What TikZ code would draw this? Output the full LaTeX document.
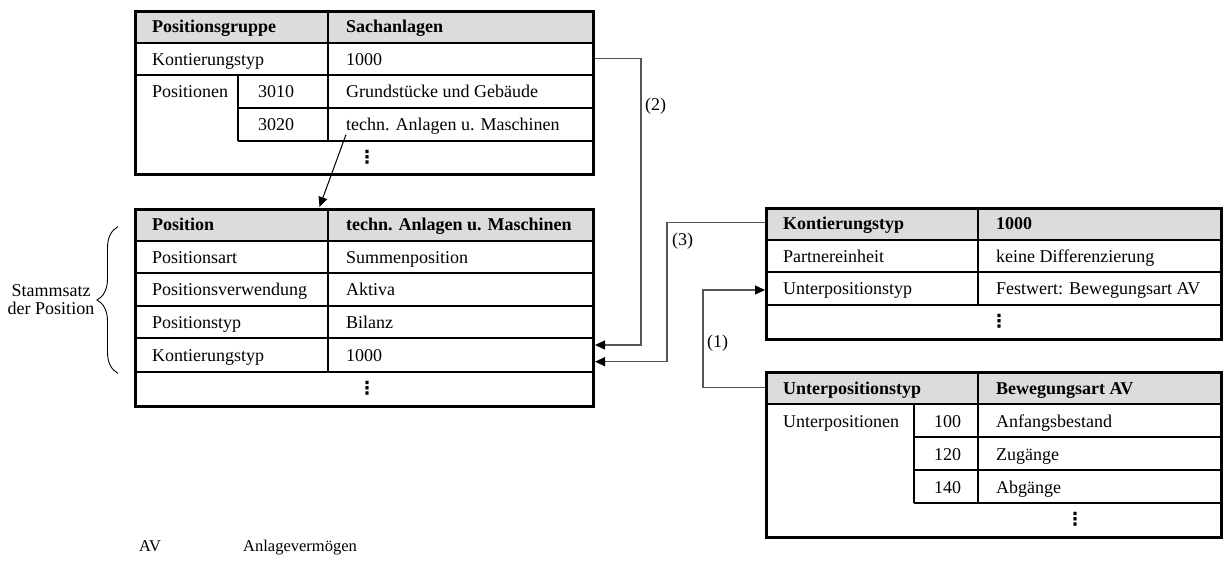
\documentclass[tikz,border=0pt]{standalone}
\usepackage{fontspec}
\setmainfont{Liberation Serif}
\newfontfamily\dotsfont{DejaVu Sans}
\usetikzlibrary{arrows.meta,decorations.pathreplacing}
\definecolor{headgray}{RGB}{220,220,220}
\definecolor{linkgray}{RGB}{85,85,85}

\begin{document}
\begin{tikzpicture}[x=1pt,y=-1pt,
  frame/.style={draw=black,line width=3pt,anchor=north west,inner sep=0pt},
  grid/.style={line width=2pt},
  head/.style={fill=headgray},
  txt/.style={anchor=base west,inner sep=0pt,font=\fontsize{18}{21}\selectfont},
  bold/.style={txt,font=\fontsize{18}{21}\selectfont\bfseries},
  more/.style={inner sep=0pt,font=\fontsize{18}{18}\selectfont\dotsfont\bfseries},
  note/.style={anchor=base west,inner sep=0pt,font=\fontsize{16.5}{19}\selectfont},
  link/.style={draw=linkgray,line width=1.3pt,-{Triangle[length=10pt,width=9pt,color=black]}},
  pointer/.style={draw=black,line width=1pt,-{Triangle[length=10pt,width=9pt]}}]

\fill[white] (0,0) rectangle (1224,562);
\useasboundingbox (0,0) rectangle (1224,562);

% ---- Positionsgruppe Sachanlagen
\fill[head] (134,10) rectangle (592,42.5);
\node[frame,minimum width=458pt,minimum height=163pt] (pg) at (134,10) {};
\draw[grid] (134,42.5) -- (592,42.5) (134,75) -- (592,75)
  (238,107.5) -- (592,107.5) (238,140.5) -- (592,140.5)
  (328,10) -- (328,140.5) (238,75) -- (238,140.5);
\node[bold] (pgk) at (152,32.75) {Positionsgruppe};
\node[bold] (pgv) at (346,32.75) {Sachanlagen};
\node[txt] (pgkt) at (152,65.25) {Kontierungstyp};
\node[txt] (pgktv) at (346,65.25) {1000};
\node[txt] (pgpos) at (152,97.75) {Positionen};
\node[txt] (pgn1) at (258,97.75) {3010};
\node[txt] (pgp1) at (346,97.75) {Grundstücke und Gebäude};
\node[txt] (pgn2) at (258,130.5) {3020};
\node[txt] (pgp2) at (346,130.5) {techn. Anlagen u. Maschinen};
\node[more] (pgmore) at (367,156.75) {⋮};

% ---- Position techn. Anlagen u. Maschinen
\fill[head] (134,208) rectangle (592,240.5);
\node[frame,minimum width=458pt,minimum height=196.5pt] (pos) at (134,208) {};
\draw[grid] (134,240.5) -- (592,240.5) (134,273) -- (592,273)
  (134,305.5) -- (592,305.5) (134,338.3) -- (592,338.3) (134,371.5) -- (592,371.5)
  (328,208) -- (328,371.5);
\node[bold] (posk) at (152,230.75) {Position};
\node[bold] (posv) at (346,230.75) {techn. Anlagen u. Maschinen};
\node[txt] (pa) at (152,263.25) {Positionsart};
\node[txt] (pav) at (346,263.25) {Summenposition};
\node[txt] (pv) at (152,295.75) {Positionsverwendung};
\node[txt] (pvv) at (346,295.75) {Aktiva};
\node[txt] (pt) at (152,328.25) {Positionstyp};
\node[txt] (ptv) at (346,328.25) {Bilanz};
\node[txt] (pk) at (152,361.4) {Kontierungstyp};
\node[txt] (pkv) at (346,361.4) {1000};
\node[more] (posmore) at (367,388) {⋮};

% ---- Kontierungstyp 1000
\fill[head] (765,207) rectangle (1220,239.5);
\node[frame,minimum width=455pt,minimum height=131pt] (kt) at (765,207) {};
\draw[grid] (765,239.5) -- (1220,239.5) (765,272) -- (1220,272)
  (765,304.5) -- (1220,304.5) (978,207) -- (978,304.5);
\node[bold] (ktk) at (783,229.75) {Kontierungstyp};
\node[bold] (ktv) at (996,229.75) {1000};
\node[txt] (pe) at (783,262.25) {Partnereinheit};
\node[txt] (pev) at (996,262.25) {keine Differenzierung};
\node[txt] (ut) at (783,294.75) {Unterpositionstyp};
\node[txt] (utv) at (996,294.75) {Festwert: Bewegungsart AV};
\node[more] (ktmore) at (999,321.25) {⋮};

% ---- Unterpositionstyp Bewegungsart AV
\fill[head] (765,371) rectangle (1220,404);
\node[frame,minimum width=455pt,minimum height=165pt] (upt) at (765,371) {};
\draw[grid] (765,404) -- (1220,404) (914,437) -- (1220,437)
  (914,470) -- (1220,470) (914,503) -- (1220,503)
  (978,371) -- (978,503) (914,404) -- (914,503);
\node[bold] (uptk) at (783,394) {Unterpositionstyp};
\node[bold] (uptv) at (996,394) {Bewegungsart AV};
\node[txt] (up) at (783,427) {Unterpositionen};
\node[txt] (upn1) at (934,427) {100};
\node[txt] (upv1) at (996,427) {Anfangsbestand};
\node[txt] (upn2) at (934,460) {120};
\node[txt] (upv2) at (996,460) {Zugänge};
\node[txt] (upn3) at (934,493) {140};
\node[txt] (upv3) at (996,493) {Abgänge};
\node[more] (uptmore) at (1075,519.5) {⋮};

% ---- brace around the master record rows
\draw[line width=0.9pt,decorate,decoration={brace,amplitude=21pt}] (118,373.3) -- (118,226.7);
\node[align=center,inner sep=0pt,font=\fontsize{18}{18.5}\selectfont] (stamm) at (51,299.5) {Stammsatz\\der Position};

% ---- connectors
\coordinate (bend2) at (641,0);
\coordinate (bend3) at (667,0);
\coordinate (bend1) at (703,0);
\coordinate (s2) at ([yshift=-48.75pt]pg.north east);
\coordinate (e2) at ([yshift=-137pt]pos.north east);
\coordinate (s3) at ([yshift=-15.5pt]kt.north west);
\coordinate (e3) at ([yshift=-153.7pt]pos.north east);
\coordinate (s1) at ([yshift=-16.5pt]upt.north west);
\coordinate (e1) at ([yshift=-83pt]kt.north west);

\draw[pointer] (pgp2.south west) -- ([xshift=-45pt,yshift=1pt]pos.north);
\draw[link] (s2) -- (s2 -| bend2) -- (e2 -| bend2) -- (e2);
\draw[link] (s3) -- (s3 -| bend3) -- (e3 -| bend3) -- (e3);
\draw[link] (s1) -- (s1 -| bend1) -- (e1 -| bend1) -- (e1);
\node[txt] (l2) at (645,110.5) {(2)};
\node[txt] (l3) at (672,245) {(3)};
\node[txt] (l1) at (707,347) {(1)};

% ---- abbreviation
\node[note] (abbr) at (139,551) {AV};
\node[note] (abbrtext) at (243,551) {Anlagevermögen};
\end{tikzpicture}
\end{document}
